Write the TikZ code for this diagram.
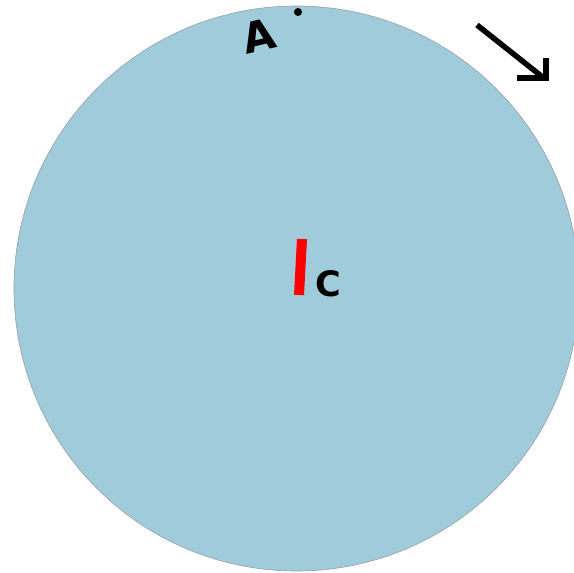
\documentclass[tikz,border=0pt]{standalone}
\usepackage{fontspec}
\setmainfont{DejaVu Sans}
\definecolor{disc}{RGB}{160,203,218}
\definecolor{rim}{RGB}{150,160,165}
\tikzset{
  lbl/.style={text=black, inner sep=0pt},
  thickblack/.style={line width=5.5pt, black, line join=miter, line cap=butt}
}
\begin{document}
\begin{tikzpicture}[x=1pt,y=-1pt]
\useasboundingbox (0,0) rectangle (574,573);
\fill[white] (0,0) rectangle (574,573);
\path[fill=disc, draw=rim, line width=0.6pt] (296.5,288.5) circle (282.5);
\node[circle, fill=black, minimum size=8pt, inner sep=0pt] (dot) at (298,12) {};
\node[lbl, font=\bfseries\fontsize{42}{42}\selectfont, rotate=13] (A) at (259,36) {A};
\draw[line width=10pt, red] (302,239) -- (299,295);
\node[lbl, font=\bfseries\fontsize{35}{35}\selectfont] (C) at (328,284) {C};
\coordinate (s) at (477,25);
\coordinate (t) at (545,79);
\draw[thickblack] (s) -- (t);
\draw[thickblack] (517,78) -- (546,78) -- (546,58);
\end{tikzpicture}
\end{document}
